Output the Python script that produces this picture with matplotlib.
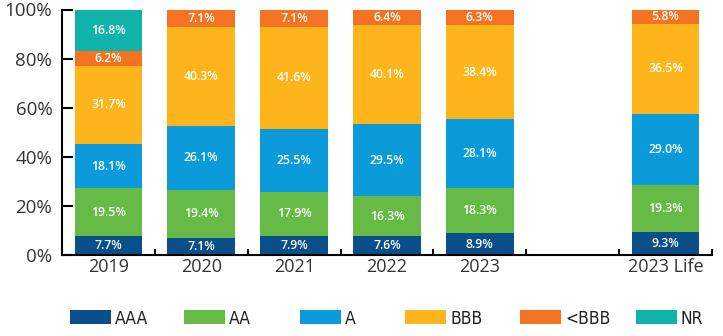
import numpy as np
import matplotlib
matplotlib.use("Agg")
import matplotlib.pyplot as plt
from matplotlib.patches import Rectangle

categories = ["2019", "2020", "2021", "2022", "2023", "", "2023 Life"]
ratings = ["AAA", "AA", "A", "BBB", "<BBB", "NR"]
colors = ["#0b4f8a", "#66bb46", "#0b9bdb", "#fdb51b", "#f47322", "#10b3a9"]

# share of each rating per year, in percent (blank slot is a spacer)
aaa = [7.7, 7.1, 7.9, 7.6, 8.9, 0, 9.3]
aa = [19.5, 19.4, 17.9, 16.3, 18.3, 0, 19.3]
a = [18.1, 26.1, 25.5, 29.5, 28.1, 0, 29.0]
bbb = [31.7, 40.3, 41.6, 40.1, 38.4, 0, 36.5]
below_bbb = [6.2, 7.1, 7.1, 6.4, 6.3, 0, 5.8]
nr = [16.8, 0, 0, 0, 0, 0, 0]
series = [aaa, aa, a, bbb, below_bbb, nr]

W, H = 723, 336
fig = plt.figure(figsize=(W / 100, H / 100), dpi=100)
ax = fig.add_axes([62/W, 81/H, 650/W, 245.5/H])

x = np.arange(len(categories))
bottom = np.zeros(len(categories))
for name, vals, col in zip(ratings, series, colors):
    vals = np.array(vals)
    ax.bar(x, vals, 0.73, bottom=bottom, color=col, label=name, linewidth=0)
    for xi, v, b in zip(x, vals, bottom):
        if v > 0:
            ax.text(xi, b + v / 2, f"{v:.1f}%", ha="center", va="center",
                    color="white", fontsize=8.8, fontweight="semibold",
                    family="Open Sans")
    bottom += vals

ax.set_xlim(-0.5, 6.5)
ax.set_ylim(0, 100)
ax.set_yticks(np.arange(0, 101, 20))
ax.set_yticklabels([f"{t}%" for t in range(0, 101, 20)])
ax.set_xticks(x)
ax.set_xticklabels(categories)
ax.set_xticks(np.arange(0.5, 7, 1), minor=True)
ax.tick_params(axis="x", which="major", length=0, labelsize=13,
               labelcolor="#333333", pad=2)
ax.tick_params(axis="x", which="minor", direction="in", length=4, width=1.5)
ax.tick_params(axis="y", direction="in", length=8, width=1.5,
               labelsize=13.5, labelcolor="#333333", pad=7)
for lab in ax.get_xticklabels() + ax.get_yticklabels():
    lab.set_family("Open Sans")
for s in ["top", "right"]:
    ax.spines[s].set_visible(False)
for s in ["left", "bottom"]:
    ax.spines[s].set_linewidth(1.5)

# legend row drawn by hand so the entries sit on an even pitch
legend_x = [70, 184, 300, 405, 520, 636]
for lx, name, col in zip(legend_x, ratings, colors):
    fig.add_artist(Rectangle((lx / W, 12 / H), 41 / W, 14 / H,
                             transform=fig.transFigure, color=col, lw=0))
    fig.text((lx + 45) / W, 17.5 / H, name, ha="left", va="center",
             fontsize=12.5, color="#222222", family="DejaVu Sans",
             fontstretch="condensed")

fig.savefig("out.png", dpi=100)
